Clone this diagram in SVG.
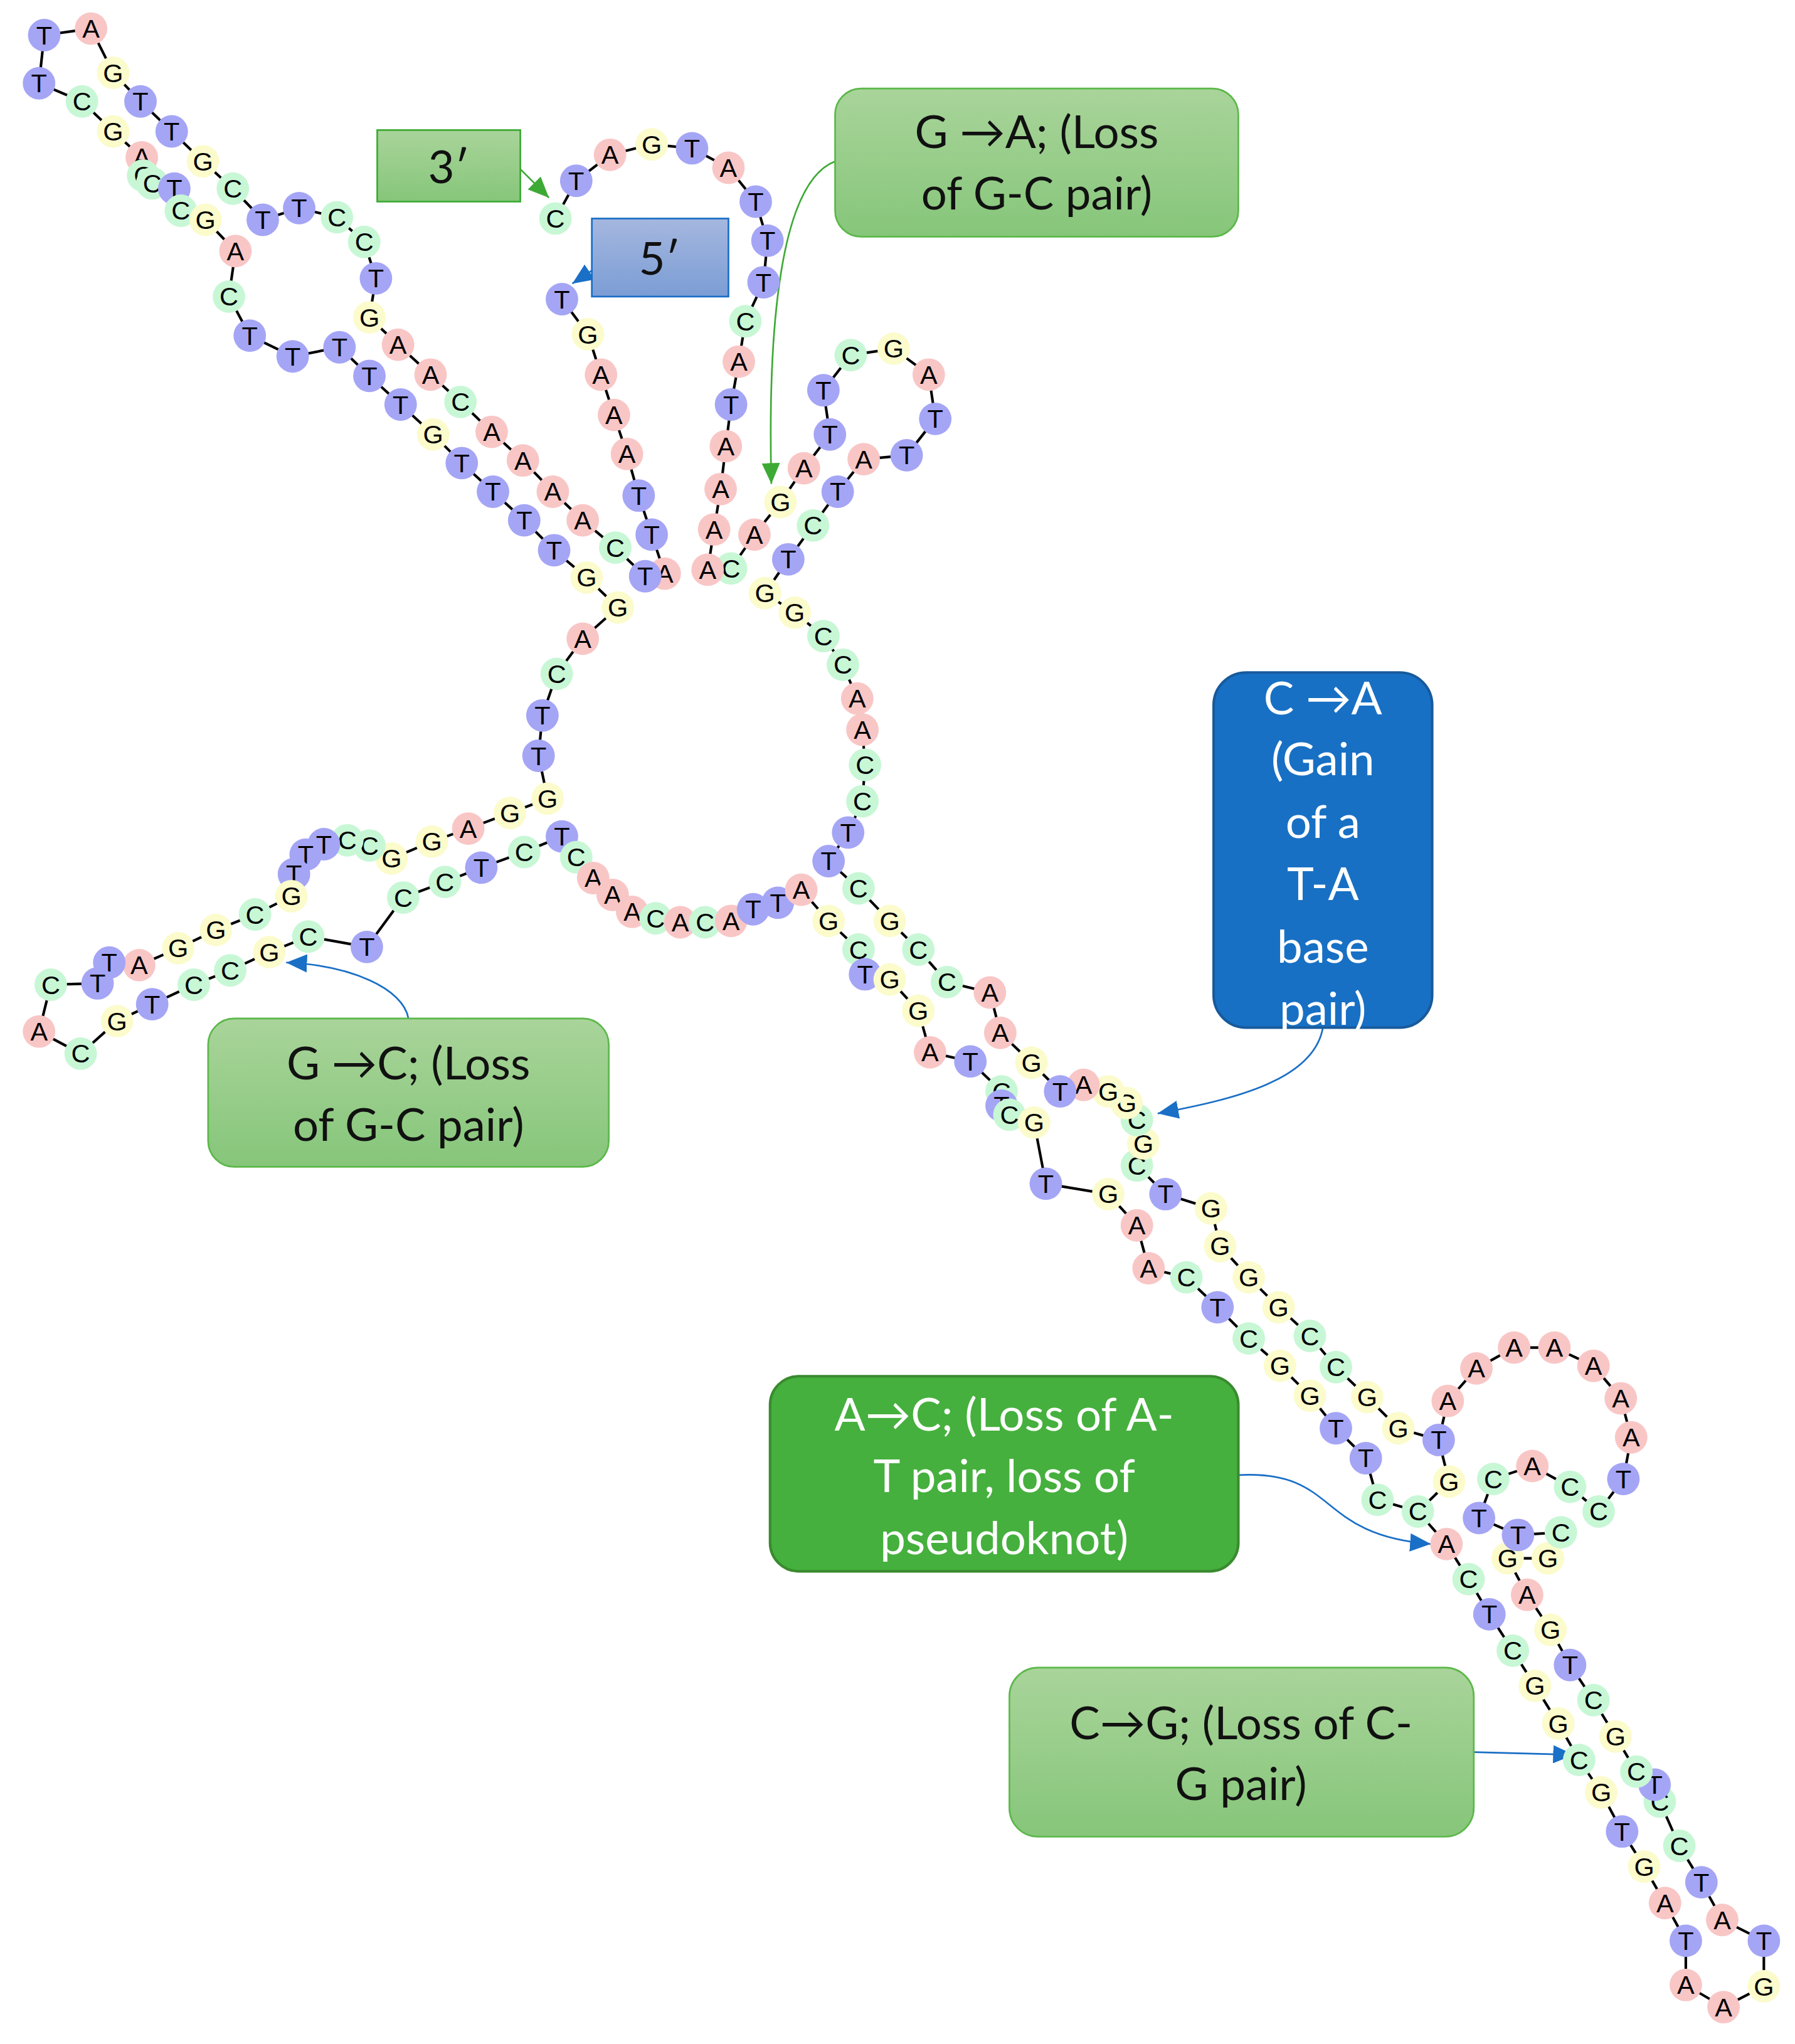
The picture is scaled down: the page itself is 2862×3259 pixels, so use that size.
<svg xmlns="http://www.w3.org/2000/svg" width="2862" height="3259" viewBox="0 0 2862 3259">
<style>
.nt circle{stroke:none;r:12.5px}
.A circle{fill:#f9c6c6}.T circle{fill:#a5a5f6}.G circle{fill:#fbfbcc}.C circle{fill:#c8f7d6}
.nt text{font-family:"Liberation Sans",Arial,sans-serif;font-size:20px;text-anchor:middle;fill:#000;transform:translateY(1px)}
.bt{font-family:Lato,"Open Sans",sans-serif;font-size:35px;text-anchor:middle}
.lg{fill:url(#gg);stroke:#5cb84a;stroke-width:1.3}
</style>
<defs>
<linearGradient id="gg" x1="0" y1="0" x2="0" y2="1"><stop offset="0" stop-color="#a9d49a"/><stop offset="1" stop-color="#86c67a"/></linearGradient>
<linearGradient id="bg" x1="0" y1="0" x2="0" y2="1"><stop offset="0" stop-color="#a5b7df"/><stop offset="1" stop-color="#7b9dd5"/></linearGradient>
<marker id="mg" markerUnits="userSpaceOnUse" markerWidth="16" markerHeight="14" refX="16" refY="7" orient="auto"><path d="M0,0L16,7L0,14z" fill="#3daa35"/></marker>
<marker id="mb" markerUnits="userSpaceOnUse" markerWidth="16" markerHeight="14" refX="16" refY="7" orient="auto"><path d="M0,0L16,7L0,14z" fill="#1a6fc6"/></marker>
</defs>
<rect width="2862" height="3259" fill="#fff"/>
<g transform="scale(2.074)">
<g id="connectors" fill="none">
<polyline stroke="#000" stroke-width="2" points="432,230 452,257 462,288 472,319 482,349 491,381 501,411 511,441 496,443 473,421 448,400 425,378 402,354 378,332 354,309 331,288 306,265 284,244 289,214 280,186 259,167 230,160 202,169 179,145 156,124 132,101 108,78 87,56 70,22 34,27 30,64 63,78 87,101 109,121 110,135 117,141 134,145 139,162 158,169 181,193 176,228 192,258 225,274 261,267 284,289 308,311 333,334 355,356 379,378 403,400 426,423 451,444 475,467 448,491 428,518 417,550 414,581 421,614 392,625 360,637 332,647 301,660 284,650 267,646 249,649 235,657 226,672 224,689 196,703 166,715 137,729 107,742 84,740 75,756 39,757 30,793 62,810 90,785 117,772 149,757 177,746 207,732 237,720 282,728 310,690 342,678 370,667 403,655 432,643 443,659 456,675 471,688 486,701 504,706 523,709 542,709 562,708 579,699 598,694 616,684 637,708 660,730 665,749 684,753 706,777 715,809 746,816 770,839 770,850 776,857 795,863 804,910 852,918 874,942 883,975 912,982 936,1005 960,1029 984,1050 1007,1073 1027,1098 1050,1121 1059,1153 1090,1162 1112,1187 1129,1214 1145,1241 1163,1269 1180,1296 1198,1325 1214,1353 1231,1378 1247,1408 1264,1435 1280,1463 1296,1492 1296,1526 1325,1543 1356,1527 1356,1492 1324,1476 1308,1447 1291,1419 1276,1385 1272,1372 1258,1362 1242,1335 1225,1307 1207,1280 1192,1253 1174,1226 1159,1198 1190,1198 1200,1178 1167,1180 1137,1167 1148,1137 1178,1127 1207,1143 1229,1162 1248,1137 1254,1105 1246,1075 1225,1050 1195,1036 1164,1036 1135,1052 1113,1077 1106,1107 1075,1098 1051,1074 1027,1051 1007,1027 983,1005 960,982 938,958 931,929 896,918 874,896 879,879 874,861 866,848 852,839 833,834 815,839 793,817 769,794 761,763 728,755 706,730 684,708 660,683 637,662 652,640 663,616 665,588 663,561 659,537 648,511 633,489 611,471 588,456 606,430 625,404 644,378 664,353 697,350 719,322 714,288 687,268 654,273 633,300 638,334 618,360 600,386 580,411 562,437 544,438 549,407 554,376 558,343 562,311 568,278 573,247 587,217 590,185 581,155 560,129 532,114 501,111 469,119 443,139 427,168"/>
<line x1="1106" y1="1107" x2="1114" y2="1139" stroke="#000" stroke-width="2"/>
<line x1="1114" y1="1139" x2="1090" y2="1162" stroke="#000" stroke-width="2"/>
<path d="M400,130 L422,152" stroke="#3daa35" stroke-width="1.3" marker-end="url(#mg)"/>
<path d="M455,208 L440,218" stroke="#1a6fc6" stroke-width="1.3" marker-end="url(#mb)"/>
<path d="M642,124 C600,140 590,250 593,372" stroke="#3daa35" stroke-width="1.3" marker-end="url(#mg)"/>
<path d="M1017,790 C1010,830 950,845 890,856" stroke="#1a6fc6" stroke-width="1.3" marker-end="url(#mb)"/>
<path d="M314,783 C310,760 270,742 220,740" stroke="#1a6fc6" stroke-width="1.3" marker-end="url(#mb)"/>
<path d="M952,1134 C1030,1130 1010,1180 1100,1187" stroke="#1a6fc6" stroke-width="1.3" marker-end="url(#mb)"/>
<path d="M1133,1347 L1210,1349" stroke="#1a6fc6" stroke-width="1.3" marker-end="url(#mb)"/>
</g>
<g id="nucleotides">
<g id="n1" class="nt T"><circle cx="432" cy="230" r="11"/><text x="432" y="236">T</text></g>
<g id="n2" class="nt G"><circle cx="452" cy="257" r="11"/><text x="452" y="263">G</text></g>
<g id="n3" class="nt A"><circle cx="462" cy="288" r="11"/><text x="462" y="294">A</text></g>
<g id="n4" class="nt A"><circle cx="472" cy="319" r="11"/><text x="472" y="325">A</text></g>
<g id="n5" class="nt A"><circle cx="482" cy="349" r="11"/><text x="482" y="355">A</text></g>
<g id="n6" class="nt T"><circle cx="491" cy="381" r="11"/><text x="491" y="387">T</text></g>
<g id="n7" class="nt T"><circle cx="501" cy="411" r="11"/><text x="501" y="417">T</text></g>
<g id="n8" class="nt A"><circle cx="511" cy="441" r="11"/><text x="511" y="447">A</text></g>
<g id="n9" class="nt T"><circle cx="496" cy="443" r="11"/><text x="496" y="449">T</text></g>
<g id="n10" class="nt C"><circle cx="473" cy="421" r="11"/><text x="473" y="427">C</text></g>
<g id="n11" class="nt A"><circle cx="448" cy="400" r="11"/><text x="448" y="406">A</text></g>
<g id="n12" class="nt A"><circle cx="425" cy="378" r="11"/><text x="425" y="384">A</text></g>
<g id="n13" class="nt A"><circle cx="402" cy="354" r="11"/><text x="402" y="360">A</text></g>
<g id="n14" class="nt A"><circle cx="378" cy="332" r="11"/><text x="378" y="338">A</text></g>
<g id="n15" class="nt C"><circle cx="354" cy="309" r="11"/><text x="354" y="315">C</text></g>
<g id="n16" class="nt A"><circle cx="331" cy="288" r="11"/><text x="331" y="294">A</text></g>
<g id="n17" class="nt A"><circle cx="306" cy="265" r="11"/><text x="306" y="271">A</text></g>
<g id="n18" class="nt G"><circle cx="284" cy="244" r="11"/><text x="284" y="250">G</text></g>
<g id="n19" class="nt T"><circle cx="289" cy="214" r="11"/><text x="289" y="220">T</text></g>
<g id="n20" class="nt C"><circle cx="280" cy="186" r="11"/><text x="280" y="192">C</text></g>
<g id="n21" class="nt C"><circle cx="259" cy="167" r="11"/><text x="259" y="173">C</text></g>
<g id="n22" class="nt T"><circle cx="230" cy="160" r="11"/><text x="230" y="166">T</text></g>
<g id="n23" class="nt T"><circle cx="202" cy="169" r="11"/><text x="202" y="175">T</text></g>
<g id="n24" class="nt C"><circle cx="179" cy="145" r="11"/><text x="179" y="151">C</text></g>
<g id="n25" class="nt G"><circle cx="156" cy="124" r="11"/><text x="156" y="130">G</text></g>
<g id="n26" class="nt T"><circle cx="132" cy="101" r="11"/><text x="132" y="107">T</text></g>
<g id="n27" class="nt T"><circle cx="108" cy="78" r="11"/><text x="108" y="84">T</text></g>
<g id="n28" class="nt G"><circle cx="87" cy="56" r="11"/><text x="87" y="62">G</text></g>
<g id="n29" class="nt A"><circle cx="70" cy="22" r="11"/><text x="70" y="28">A</text></g>
<g id="n30" class="nt T"><circle cx="34" cy="27" r="11"/><text x="34" y="33">T</text></g>
<g id="n31" class="nt T"><circle cx="30" cy="64" r="11"/><text x="30" y="70">T</text></g>
<g id="n32" class="nt C"><circle cx="63" cy="78" r="11"/><text x="63" y="84">C</text></g>
<g id="n33" class="nt G"><circle cx="87" cy="101" r="11"/><text x="87" y="107">G</text></g>
<g id="n34" class="nt A"><circle cx="109" cy="121" r="11"/><text x="109" y="127">A</text></g>
<g id="n35" class="nt C"><circle cx="110" cy="135" r="11"/><text x="110" y="141">C</text></g>
<g id="n36" class="nt C"><circle cx="117" cy="141" r="11"/><text x="117" y="147">C</text></g>
<g id="n37" class="nt T"><circle cx="134" cy="145" r="11"/><text x="134" y="151">T</text></g>
<g id="n38" class="nt C"><circle cx="139" cy="162" r="11"/><text x="139" y="168">C</text></g>
<g id="n39" class="nt G"><circle cx="158" cy="169" r="11"/><text x="158" y="175">G</text></g>
<g id="n40" class="nt A"><circle cx="181" cy="193" r="11"/><text x="181" y="199">A</text></g>
<g id="n41" class="nt C"><circle cx="176" cy="228" r="11"/><text x="176" y="234">C</text></g>
<g id="n42" class="nt T"><circle cx="192" cy="258" r="11"/><text x="192" y="264">T</text></g>
<g id="n43" class="nt T"><circle cx="225" cy="274" r="11"/><text x="225" y="280">T</text></g>
<g id="n44" class="nt T"><circle cx="261" cy="267" r="11"/><text x="261" y="273">T</text></g>
<g id="n45" class="nt T"><circle cx="284" cy="289" r="11"/><text x="284" y="295">T</text></g>
<g id="n46" class="nt T"><circle cx="308" cy="311" r="11"/><text x="308" y="317">T</text></g>
<g id="n47" class="nt G"><circle cx="333" cy="334" r="11"/><text x="333" y="340">G</text></g>
<g id="n48" class="nt T"><circle cx="355" cy="356" r="11"/><text x="355" y="362">T</text></g>
<g id="n49" class="nt T"><circle cx="379" cy="378" r="11"/><text x="379" y="384">T</text></g>
<g id="n50" class="nt T"><circle cx="403" cy="400" r="11"/><text x="403" y="406">T</text></g>
<g id="n51" class="nt T"><circle cx="426" cy="423" r="11"/><text x="426" y="429">T</text></g>
<g id="n52" class="nt G"><circle cx="451" cy="444" r="11"/><text x="451" y="450">G</text></g>
<g id="n53" class="nt G"><circle cx="475" cy="467" r="11"/><text x="475" y="473">G</text></g>
<g id="n54" class="nt A"><circle cx="448" cy="491" r="11"/><text x="448" y="497">A</text></g>
<g id="n55" class="nt C"><circle cx="428" cy="518" r="11"/><text x="428" y="524">C</text></g>
<g id="n56" class="nt T"><circle cx="417" cy="550" r="11"/><text x="417" y="556">T</text></g>
<g id="n57" class="nt T"><circle cx="414" cy="581" r="11"/><text x="414" y="587">T</text></g>
<g id="n58" class="nt G"><circle cx="421" cy="614" r="11"/><text x="421" y="620">G</text></g>
<g id="n59" class="nt G"><circle cx="392" cy="625" r="11"/><text x="392" y="631">G</text></g>
<g id="n60" class="nt A"><circle cx="360" cy="637" r="11"/><text x="360" y="643">A</text></g>
<g id="n61" class="nt G"><circle cx="332" cy="647" r="11"/><text x="332" y="653">G</text></g>
<g id="n62" class="nt G"><circle cx="301" cy="660" r="11"/><text x="301" y="666">G</text></g>
<g id="n63" class="nt C"><circle cx="284" cy="650" r="11"/><text x="284" y="656">C</text></g>
<g id="n64" class="nt C"><circle cx="267" cy="646" r="11"/><text x="267" y="652">C</text></g>
<g id="n65" class="nt T"><circle cx="249" cy="649" r="11"/><text x="249" y="655">T</text></g>
<g id="n66" class="nt T"><circle cx="235" cy="657" r="11"/><text x="235" y="663">T</text></g>
<g id="n67" class="nt T"><circle cx="226" cy="672" r="11"/><text x="226" y="678">T</text></g>
<g id="n68" class="nt G"><circle cx="224" cy="689" r="11"/><text x="224" y="695">G</text></g>
<g id="n69" class="nt C"><circle cx="196" cy="703" r="11"/><text x="196" y="709">C</text></g>
<g id="n70" class="nt G"><circle cx="166" cy="715" r="11"/><text x="166" y="721">G</text></g>
<g id="n71" class="nt G"><circle cx="137" cy="729" r="11"/><text x="137" y="735">G</text></g>
<g id="n72" class="nt A"><circle cx="107" cy="742" r="11"/><text x="107" y="748">A</text></g>
<g id="n73" class="nt T"><circle cx="84" cy="740" r="11"/><text x="84" y="746">T</text></g>
<g id="n74" class="nt T"><circle cx="75" cy="756" r="11"/><text x="75" y="762">T</text></g>
<g id="n75" class="nt C"><circle cx="39" cy="757" r="11"/><text x="39" y="763">C</text></g>
<g id="n76" class="nt A"><circle cx="30" cy="793" r="11"/><text x="30" y="799">A</text></g>
<g id="n77" class="nt C"><circle cx="62" cy="810" r="11"/><text x="62" y="816">C</text></g>
<g id="n78" class="nt G"><circle cx="90" cy="785" r="11"/><text x="90" y="791">G</text></g>
<g id="n79" class="nt T"><circle cx="117" cy="772" r="11"/><text x="117" y="778">T</text></g>
<g id="n80" class="nt C"><circle cx="149" cy="757" r="11"/><text x="149" y="763">C</text></g>
<g id="n81" class="nt C"><circle cx="177" cy="746" r="11"/><text x="177" y="752">C</text></g>
<g id="n82" class="nt G"><circle cx="207" cy="732" r="11"/><text x="207" y="738">G</text></g>
<g id="n83" class="nt C"><circle cx="237" cy="720" r="11"/><text x="237" y="726">C</text></g>
<g id="n84" class="nt T"><circle cx="282" cy="728" r="11"/><text x="282" y="734">T</text></g>
<g id="n85" class="nt C"><circle cx="310" cy="690" r="11"/><text x="310" y="696">C</text></g>
<g id="n86" class="nt C"><circle cx="342" cy="678" r="11"/><text x="342" y="684">C</text></g>
<g id="n87" class="nt T"><circle cx="370" cy="667" r="11"/><text x="370" y="673">T</text></g>
<g id="n88" class="nt C"><circle cx="403" cy="655" r="11"/><text x="403" y="661">C</text></g>
<g id="n89" class="nt T"><circle cx="432" cy="643" r="11"/><text x="432" y="649">T</text></g>
<g id="n90" class="nt C"><circle cx="443" cy="659" r="11"/><text x="443" y="665">C</text></g>
<g id="n91" class="nt A"><circle cx="456" cy="675" r="11"/><text x="456" y="681">A</text></g>
<g id="n92" class="nt A"><circle cx="471" cy="688" r="11"/><text x="471" y="694">A</text></g>
<g id="n93" class="nt A"><circle cx="486" cy="701" r="11"/><text x="486" y="707">A</text></g>
<g id="n94" class="nt C"><circle cx="504" cy="706" r="11"/><text x="504" y="712">C</text></g>
<g id="n95" class="nt A"><circle cx="523" cy="709" r="11"/><text x="523" y="715">A</text></g>
<g id="n96" class="nt C"><circle cx="542" cy="709" r="11"/><text x="542" y="715">C</text></g>
<g id="n97" class="nt A"><circle cx="562" cy="708" r="11"/><text x="562" y="714">A</text></g>
<g id="n98" class="nt T"><circle cx="579" cy="699" r="11"/><text x="579" y="705">T</text></g>
<g id="n99" class="nt T"><circle cx="598" cy="694" r="11"/><text x="598" y="700">T</text></g>
<g id="n100" class="nt A"><circle cx="616" cy="684" r="11"/><text x="616" y="690">A</text></g>
<g id="n101" class="nt G"><circle cx="637" cy="708" r="11"/><text x="637" y="714">G</text></g>
<g id="n102" class="nt C"><circle cx="660" cy="730" r="11"/><text x="660" y="736">C</text></g>
<g id="n103" class="nt T"><circle cx="665" cy="749" r="11"/><text x="665" y="755">T</text></g>
<g id="n104" class="nt G"><circle cx="684" cy="753" r="11"/><text x="684" y="759">G</text></g>
<g id="n105" class="nt G"><circle cx="706" cy="777" r="11"/><text x="706" y="783">G</text></g>
<g id="n106" class="nt A"><circle cx="715" cy="809" r="11"/><text x="715" y="815">A</text></g>
<g id="n107" class="nt T"><circle cx="746" cy="816" r="11"/><text x="746" y="822">T</text></g>
<g id="n108" class="nt C"><circle cx="770" cy="839" r="11"/><text x="770" y="845">C</text></g>
<g id="n109" class="nt T"><circle cx="770" cy="850" r="11"/><text x="770" y="856">T</text></g>
<g id="n110" class="nt C"><circle cx="776" cy="857" r="11"/><text x="776" y="863">C</text></g>
<g id="n111" class="nt G"><circle cx="795" cy="863" r="11"/><text x="795" y="869">G</text></g>
<g id="n112" class="nt T"><circle cx="804" cy="910" r="11"/><text x="804" y="916">T</text></g>
<g id="n113" class="nt G"><circle cx="852" cy="918" r="11"/><text x="852" y="924">G</text></g>
<g id="n114" class="nt A"><circle cx="874" cy="942" r="11"/><text x="874" y="948">A</text></g>
<g id="n115" class="nt A"><circle cx="883" cy="975" r="11"/><text x="883" y="981">A</text></g>
<g id="n116" class="nt C"><circle cx="912" cy="982" r="11"/><text x="912" y="988">C</text></g>
<g id="n117" class="nt T"><circle cx="936" cy="1005" r="11"/><text x="936" y="1011">T</text></g>
<g id="n118" class="nt C"><circle cx="960" cy="1029" r="11"/><text x="960" y="1035">C</text></g>
<g id="n119" class="nt G"><circle cx="984" cy="1050" r="11"/><text x="984" y="1056">G</text></g>
<g id="n120" class="nt G"><circle cx="1007" cy="1073" r="11"/><text x="1007" y="1079">G</text></g>
<g id="n121" class="nt T"><circle cx="1027" cy="1098" r="11"/><text x="1027" y="1104">T</text></g>
<g id="n122" class="nt T"><circle cx="1050" cy="1121" r="11"/><text x="1050" y="1127">T</text></g>
<g id="n123" class="nt C"><circle cx="1059" cy="1153" r="11"/><text x="1059" y="1159">C</text></g>
<g id="n124" class="nt C"><circle cx="1090" cy="1162" r="11"/><text x="1090" y="1168">C</text></g>
<g id="n125" class="nt A"><circle cx="1112" cy="1187" r="11"/><text x="1112" y="1193">A</text></g>
<g id="n126" class="nt C"><circle cx="1129" cy="1214" r="11"/><text x="1129" y="1220">C</text></g>
<g id="n127" class="nt T"><circle cx="1145" cy="1241" r="11"/><text x="1145" y="1247">T</text></g>
<g id="n128" class="nt C"><circle cx="1163" cy="1269" r="11"/><text x="1163" y="1275">C</text></g>
<g id="n129" class="nt G"><circle cx="1180" cy="1296" r="11"/><text x="1180" y="1302">G</text></g>
<g id="n130" class="nt G"><circle cx="1198" cy="1325" r="11"/><text x="1198" y="1331">G</text></g>
<g id="n131" class="nt C"><circle cx="1214" cy="1353" r="11"/><text x="1214" y="1359">C</text></g>
<g id="n132" class="nt G"><circle cx="1231" cy="1378" r="11"/><text x="1231" y="1384">G</text></g>
<g id="n133" class="nt T"><circle cx="1247" cy="1408" r="11"/><text x="1247" y="1414">T</text></g>
<g id="n134" class="nt G"><circle cx="1264" cy="1435" r="11"/><text x="1264" y="1441">G</text></g>
<g id="n135" class="nt A"><circle cx="1280" cy="1463" r="11"/><text x="1280" y="1469">A</text></g>
<g id="n136" class="nt T"><circle cx="1296" cy="1492" r="11"/><text x="1296" y="1498">T</text></g>
<g id="n137" class="nt A"><circle cx="1296" cy="1526" r="11"/><text x="1296" y="1532">A</text></g>
<g id="n138" class="nt A"><circle cx="1325" cy="1543" r="11"/><text x="1325" y="1549">A</text></g>
<g id="n139" class="nt G"><circle cx="1356" cy="1527" r="11"/><text x="1356" y="1533">G</text></g>
<g id="n140" class="nt T"><circle cx="1356" cy="1492" r="11"/><text x="1356" y="1498">T</text></g>
<g id="n141" class="nt A"><circle cx="1324" cy="1476" r="11"/><text x="1324" y="1482">A</text></g>
<g id="n142" class="nt T"><circle cx="1308" cy="1447" r="11"/><text x="1308" y="1453">T</text></g>
<g id="n143" class="nt C"><circle cx="1291" cy="1419" r="11"/><text x="1291" y="1425">C</text></g>
<g id="n144" class="nt C"><circle cx="1276" cy="1385" r="11"/><text x="1276" y="1391">C</text></g>
<g id="n145" class="nt T"><circle cx="1272" cy="1372" r="11"/><text x="1272" y="1378">T</text></g>
<g id="n146" class="nt C"><circle cx="1258" cy="1362" r="11"/><text x="1258" y="1368">C</text></g>
<g id="n147" class="nt G"><circle cx="1242" cy="1335" r="11"/><text x="1242" y="1341">G</text></g>
<g id="n148" class="nt C"><circle cx="1225" cy="1307" r="11"/><text x="1225" y="1313">C</text></g>
<g id="n149" class="nt T"><circle cx="1207" cy="1280" r="11"/><text x="1207" y="1286">T</text></g>
<g id="n150" class="nt G"><circle cx="1192" cy="1253" r="11"/><text x="1192" y="1259">G</text></g>
<g id="n151" class="nt A"><circle cx="1174" cy="1226" r="11"/><text x="1174" y="1232">A</text></g>
<g id="n152" class="nt G"><circle cx="1159" cy="1198" r="11"/><text x="1159" y="1204">G</text></g>
<g id="n153" class="nt G"><circle cx="1190" cy="1198" r="11"/><text x="1190" y="1204">G</text></g>
<g id="n154" class="nt C"><circle cx="1200" cy="1178" r="11"/><text x="1200" y="1184">C</text></g>
<g id="n155" class="nt T"><circle cx="1167" cy="1180" r="11"/><text x="1167" y="1186">T</text></g>
<g id="n156" class="nt T"><circle cx="1137" cy="1167" r="11"/><text x="1137" y="1173">T</text></g>
<g id="n157" class="nt C"><circle cx="1148" cy="1137" r="11"/><text x="1148" y="1143">C</text></g>
<g id="n158" class="nt A"><circle cx="1178" cy="1127" r="11"/><text x="1178" y="1133">A</text></g>
<g id="n159" class="nt C"><circle cx="1207" cy="1143" r="11"/><text x="1207" y="1149">C</text></g>
<g id="n160" class="nt C"><circle cx="1229" cy="1162" r="11"/><text x="1229" y="1168">C</text></g>
<g id="n161" class="nt T"><circle cx="1248" cy="1137" r="11"/><text x="1248" y="1143">T</text></g>
<g id="n162" class="nt A"><circle cx="1254" cy="1105" r="11"/><text x="1254" y="1111">A</text></g>
<g id="n163" class="nt A"><circle cx="1246" cy="1075" r="11"/><text x="1246" y="1081">A</text></g>
<g id="n164" class="nt A"><circle cx="1225" cy="1050" r="11"/><text x="1225" y="1056">A</text></g>
<g id="n165" class="nt A"><circle cx="1195" cy="1036" r="11"/><text x="1195" y="1042">A</text></g>
<g id="n166" class="nt A"><circle cx="1164" cy="1036" r="11"/><text x="1164" y="1042">A</text></g>
<g id="n167" class="nt A"><circle cx="1135" cy="1052" r="11"/><text x="1135" y="1058">A</text></g>
<g id="n168" class="nt A"><circle cx="1113" cy="1077" r="11"/><text x="1113" y="1083">A</text></g>
<g id="n169" class="nt T"><circle cx="1106" cy="1107" r="11"/><text x="1106" y="1113">T</text></g>
<g id="n170" class="nt G"><circle cx="1114" cy="1139" r="11"/><text x="1114" y="1145">G</text></g>
<g id="n171" class="nt G"><circle cx="1075" cy="1098" r="11"/><text x="1075" y="1104">G</text></g>
<g id="n172" class="nt G"><circle cx="1051" cy="1074" r="11"/><text x="1051" y="1080">G</text></g>
<g id="n173" class="nt C"><circle cx="1027" cy="1051" r="11"/><text x="1027" y="1057">C</text></g>
<g id="n174" class="nt C"><circle cx="1007" cy="1027" r="11"/><text x="1007" y="1033">C</text></g>
<g id="n175" class="nt G"><circle cx="983" cy="1005" r="11"/><text x="983" y="1011">G</text></g>
<g id="n176" class="nt G"><circle cx="960" cy="982" r="11"/><text x="960" y="988">G</text></g>
<g id="n177" class="nt G"><circle cx="938" cy="958" r="11"/><text x="938" y="964">G</text></g>
<g id="n178" class="nt G"><circle cx="931" cy="929" r="11"/><text x="931" y="935">G</text></g>
<g id="n179" class="nt T"><circle cx="896" cy="918" r="11"/><text x="896" y="924">T</text></g>
<g id="n180" class="nt C"><circle cx="874" cy="896" r="11"/><text x="874" y="902">C</text></g>
<g id="n181" class="nt G"><circle cx="879" cy="879" r="11"/><text x="879" y="885">G</text></g>
<g id="n182" class="nt C"><circle cx="874" cy="861" r="11"/><text x="874" y="867">C</text></g>
<g id="n183" class="nt G"><circle cx="866" cy="848" r="11"/><text x="866" y="854">G</text></g>
<g id="n184" class="nt G"><circle cx="852" cy="839" r="11"/><text x="852" y="845">G</text></g>
<g id="n185" class="nt A"><circle cx="833" cy="834" r="11"/><text x="833" y="840">A</text></g>
<g id="n186" class="nt T"><circle cx="815" cy="839" r="11"/><text x="815" y="845">T</text></g>
<g id="n187" class="nt G"><circle cx="793" cy="817" r="11"/><text x="793" y="823">G</text></g>
<g id="n188" class="nt A"><circle cx="769" cy="794" r="11"/><text x="769" y="800">A</text></g>
<g id="n189" class="nt A"><circle cx="761" cy="763" r="11"/><text x="761" y="769">A</text></g>
<g id="n190" class="nt C"><circle cx="728" cy="755" r="11"/><text x="728" y="761">C</text></g>
<g id="n191" class="nt C"><circle cx="706" cy="730" r="11"/><text x="706" y="736">C</text></g>
<g id="n192" class="nt G"><circle cx="684" cy="708" r="11"/><text x="684" y="714">G</text></g>
<g id="n193" class="nt C"><circle cx="660" cy="683" r="11"/><text x="660" y="689">C</text></g>
<g id="n194" class="nt T"><circle cx="637" cy="662" r="11"/><text x="637" y="668">T</text></g>
<g id="n195" class="nt T"><circle cx="652" cy="640" r="11"/><text x="652" y="646">T</text></g>
<g id="n196" class="nt C"><circle cx="663" cy="616" r="11"/><text x="663" y="622">C</text></g>
<g id="n197" class="nt C"><circle cx="665" cy="588" r="11"/><text x="665" y="594">C</text></g>
<g id="n198" class="nt A"><circle cx="663" cy="561" r="11"/><text x="663" y="567">A</text></g>
<g id="n199" class="nt A"><circle cx="659" cy="537" r="11"/><text x="659" y="543">A</text></g>
<g id="n200" class="nt C"><circle cx="648" cy="511" r="11"/><text x="648" y="517">C</text></g>
<g id="n201" class="nt C"><circle cx="633" cy="489" r="11"/><text x="633" y="495">C</text></g>
<g id="n202" class="nt G"><circle cx="611" cy="471" r="11"/><text x="611" y="477">G</text></g>
<g id="n203" class="nt G"><circle cx="588" cy="456" r="11"/><text x="588" y="462">G</text></g>
<g id="n204" class="nt T"><circle cx="606" cy="430" r="11"/><text x="606" y="436">T</text></g>
<g id="n205" class="nt C"><circle cx="625" cy="404" r="11"/><text x="625" y="410">C</text></g>
<g id="n206" class="nt T"><circle cx="644" cy="378" r="11"/><text x="644" y="384">T</text></g>
<g id="n207" class="nt A"><circle cx="664" cy="353" r="11"/><text x="664" y="359">A</text></g>
<g id="n208" class="nt T"><circle cx="697" cy="350" r="11"/><text x="697" y="356">T</text></g>
<g id="n209" class="nt T"><circle cx="719" cy="322" r="11"/><text x="719" y="328">T</text></g>
<g id="n210" class="nt A"><circle cx="714" cy="288" r="11"/><text x="714" y="294">A</text></g>
<g id="n211" class="nt G"><circle cx="687" cy="268" r="11"/><text x="687" y="274">G</text></g>
<g id="n212" class="nt C"><circle cx="654" cy="273" r="11"/><text x="654" y="279">C</text></g>
<g id="n213" class="nt T"><circle cx="633" cy="300" r="11"/><text x="633" y="306">T</text></g>
<g id="n214" class="nt T"><circle cx="638" cy="334" r="11"/><text x="638" y="340">T</text></g>
<g id="n215" class="nt A"><circle cx="618" cy="360" r="11"/><text x="618" y="366">A</text></g>
<g id="n216" class="nt G"><circle cx="600" cy="386" r="11"/><text x="600" y="392">G</text></g>
<g id="n217" class="nt A"><circle cx="580" cy="411" r="11"/><text x="580" y="417">A</text></g>
<g id="n218" class="nt C"><circle cx="562" cy="437" r="11"/><text x="562" y="443">C</text></g>
<g id="n219" class="nt A"><circle cx="544" cy="438" r="11"/><text x="544" y="444">A</text></g>
<g id="n220" class="nt A"><circle cx="549" cy="407" r="11"/><text x="549" y="413">A</text></g>
<g id="n221" class="nt A"><circle cx="554" cy="376" r="11"/><text x="554" y="382">A</text></g>
<g id="n222" class="nt A"><circle cx="558" cy="343" r="11"/><text x="558" y="349">A</text></g>
<g id="n223" class="nt T"><circle cx="562" cy="311" r="11"/><text x="562" y="317">T</text></g>
<g id="n224" class="nt A"><circle cx="568" cy="278" r="11"/><text x="568" y="284">A</text></g>
<g id="n225" class="nt C"><circle cx="573" cy="247" r="11"/><text x="573" y="253">C</text></g>
<g id="n226" class="nt T"><circle cx="587" cy="217" r="11"/><text x="587" y="223">T</text></g>
<g id="n227" class="nt T"><circle cx="590" cy="185" r="11"/><text x="590" y="191">T</text></g>
<g id="n228" class="nt T"><circle cx="581" cy="155" r="11"/><text x="581" y="161">T</text></g>
<g id="n229" class="nt A"><circle cx="560" cy="129" r="11"/><text x="560" y="135">A</text></g>
<g id="n230" class="nt T"><circle cx="532" cy="114" r="11"/><text x="532" y="120">T</text></g>
<g id="n231" class="nt G"><circle cx="501" cy="111" r="11"/><text x="501" y="117">G</text></g>
<g id="n232" class="nt A"><circle cx="469" cy="119" r="11"/><text x="469" y="125">A</text></g>
<g id="n233" class="nt T"><circle cx="443" cy="139" r="11"/><text x="443" y="145">T</text></g>
<g id="n234" class="nt C"><circle cx="427" cy="168" r="11"/><text x="427" y="174">C</text></g>
</g>
<g id="box3prime"><rect x="290" y="100" width="110" height="55" fill="url(#gg)" stroke="#3daa35" stroke-width="1.3"/><text class="bt" x="345" y="141" fill="#111">3′</text></g>
<g id="box5prime"><rect x="455" y="168" width="105" height="60" fill="url(#bg)" stroke="#1a6fc6" stroke-width="1.3"/><text class="bt" x="507" y="211" fill="#111">5′</text></g>
<g id="boxGA"><rect class="lg" x="642" y="68" width="310" height="114" rx="20"/><text class="bt" x="797" y="114" fill="#111">G →A;  (Loss</text><text class="bt" x="797" y="161" fill="#111">of G-C pair)</text></g>
<g id="boxCA"><rect x="933" y="517" width="168" height="273" rx="25" fill="#1870c4" stroke="#175a9c" stroke-width="2"/><text class="bt" x="1017" y="549" fill="#fff">C →A</text><text class="bt" x="1017" y="596" fill="#fff">(Gain</text><text class="bt" x="1017" y="644" fill="#fff">of a</text><text class="bt" x="1017" y="692" fill="#fff">T-A</text><text class="bt" x="1017" y="740" fill="#fff">base</text><text class="bt" x="1017" y="788" fill="#fff">pair)</text></g>
<g id="boxGC"><rect class="lg" x="160" y="783" width="308" height="114" rx="20"/><text class="bt" x="314" y="830" fill="#111">G →C;  (Loss</text><text class="bt" x="314" y="877" fill="#111">of G-C pair)</text></g>
<g id="boxAC"><rect x="592" y="1058" width="360" height="150" rx="22" fill="#45b03d" stroke="#3a8a2f" stroke-width="2"/><text class="bt" x="772" y="1100" fill="#fff">A→C;  (Loss of A-</text><text class="bt" x="772" y="1147" fill="#fff">T pair, loss of</text><text class="bt" x="772" y="1195" fill="#fff">pseudoknot)</text></g>
<g id="boxCG"><rect class="lg" x="776" y="1282" width="357" height="130" rx="22"/><text class="bt" x="954" y="1337" fill="#111">C→G;  (Loss of C-</text><text class="bt" x="954" y="1384" fill="#111">G pair)</text></g>
</g>
</svg>
